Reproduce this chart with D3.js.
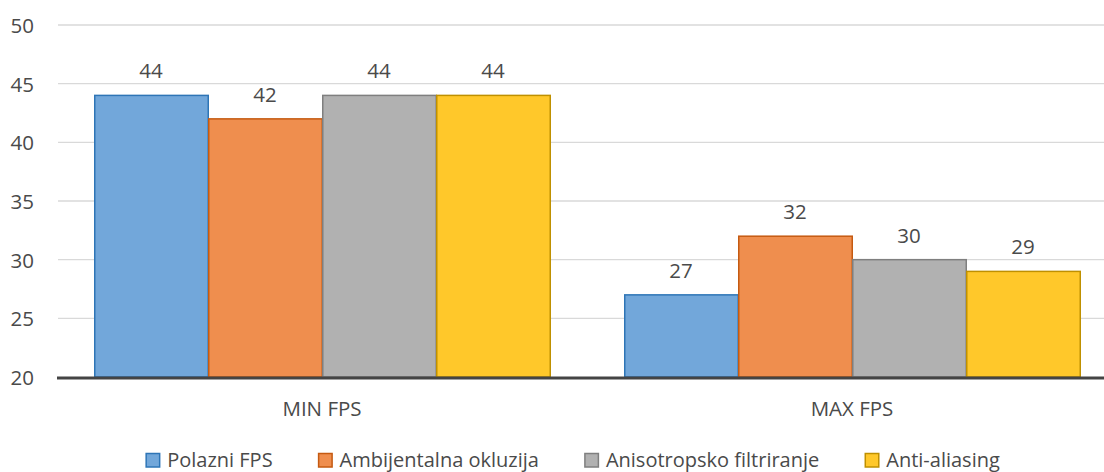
<!DOCTYPE html>
<html>
<head>
<meta charset="utf-8">
<script src="https://cdn.jsdelivr.net/npm/d3@7/dist/d3.min.js"></script>
<style>
  html, body { margin: 0; padding: 0; background: #fff; }
  svg { display: block; font-family: "Open Sans", sans-serif; }
</style>
</head>
<body>
<svg id="chart" width="1104" height="472"></svg>
<script>
// FPS measurements per test and rendering option
const categories = ["MIN FPS", "MAX FPS"];
const seriesNames = ["Polazni FPS", "Ambijentalna okluzija", "Anisotropsko filtriranje", "Anti-aliasing"];
const polazniFPS = [44, 27];
const ambijentalnaOkluzija = [42, 32];
const anisotropskoFiltriranje = [44, 30];
const antiAliasing = [44, 29];
const yTicks = [20, 25, 30, 35, 40, 45, 50];

const seriesValues = [polazniFPS, ambijentalnaOkluzija, anisotropskoFiltriranje, antiAliasing];
const fills = ["#72a7da", "#ef8e4e", "#b1b1b1", "#ffc82a"];
const strokes = ["#2e75b6", "#c55a11", "#7f7f7f", "#bf9000"];
const textColor = "#4a4a4a";
const fontSize = 20.5;

const svg = d3.select("#chart");
const W = 1104, H = 472;
const plotLeft = 57, plotRight = 1117, plotTop = 25, plotBottom = 377;

const x0 = d3.scaleBand().domain(categories).range([plotLeft, plotRight]).paddingInner(0).paddingOuter(0);
const groupWidth = 456;
const x1 = d3.scaleBand().domain(seriesNames).range([0, groupWidth]);
const y = d3.scaleLinear().domain([20, 50]).range([plotBottom, plotTop]);

// horizontal gridlines
svg.append("g")
  .selectAll("line")
  .data(yTicks.filter(t => t !== 20))
  .join("line")
  .attr("x1", plotLeft + 1).attr("x2", W)
  .attr("y1", d => y(d)).attr("y2", d => y(d))
  .attr("stroke", "#d9d9d9").attr("stroke-width", 1.3);

// y tick labels
svg.append("g")
  .selectAll("text")
  .data(yTicks)
  .join("text")
  .attr("x", 34).attr("y", d => y(d) + 8)
  .attr("text-anchor", "end")
  .attr("font-size", fontSize).attr("fill", textColor)
  .text(d => d);

// bars
const groups = svg.append("g")
  .selectAll("g")
  .data(categories)
  .join("g")
  .attr("transform", c => `translate(${x0(c) + (x0.bandwidth() - groupWidth) / 2},0)`);

groups.selectAll("rect")
  .data((c, ci) => seriesNames.map((s, si) => ({ s, si, v: seriesValues[si][ci] })))
  .join("rect")
  .attr("x", d => x1(d.s) + 0.75)
  .attr("width", x1.bandwidth() - 0.5)
  .attr("y", d => y(d.v))
  .attr("height", d => y(20) - y(d.v))
  .attr("fill", d => fills[d.si])
  .attr("stroke", d => strokes[d.si])
  .attr("stroke-width", 1.5);

// value labels
groups.selectAll("text")
  .data((c, ci) => seriesNames.map((s, si) => ({ s, si, v: seriesValues[si][ci] })))
  .join("text")
  .attr("x", d => x1(d.s) + x1.bandwidth() / 2)
  .attr("y", d => y(d.v) - 17)
  .attr("text-anchor", "middle")
  .attr("font-size", fontSize).attr("fill", textColor)
  .text(d => d.v);

// category axis line
svg.append("line")
  .attr("x1", plotLeft).attr("x2", W)
  .attr("y1", plotBottom + 1).attr("y2", plotBottom + 1)
  .attr("stroke", "#444").attr("stroke-width", 3);

// category labels
svg.append("g")
  .selectAll("text")
  .data(categories)
  .join("text")
  .attr("x", c => x0(c) + x0.bandwidth() / 2)
  .attr("y", 416)
  .attr("text-anchor", "middle")
  .attr("font-size", fontSize).attr("fill", textColor)
  .text(c => c);

// legend
const legend = svg.append("g");
const items = legend.selectAll("g").data(seriesNames).join("g");
items.append("rect")
  .attr("width", 13.5).attr("height", 13.5)
  .attr("y", 453.5)
  .attr("fill", (d, i) => fills[i]).attr("stroke", (d, i) => strokes[i]).attr("stroke-width", 1.5);
items.append("text")
  .attr("x", 21).attr("y", 466.5)
  .attr("font-size", 20).attr("fill", textColor)
  .text(d => d);

let widths = [];
items.each(function () { widths.push(this.querySelector("text").getComputedTextLength()); });
const gap = 46;
const total = widths.reduce((a, w) => a + 21 + w, 0) + gap * (widths.length - 1);
let cx = 573 - total / 2;
items.attr("transform", (d, i) => {
  const t = `translate(${cx},0)`;
  cx += 21 + widths[i] + gap;
  return t;
});
</script>
</body>
</html>
